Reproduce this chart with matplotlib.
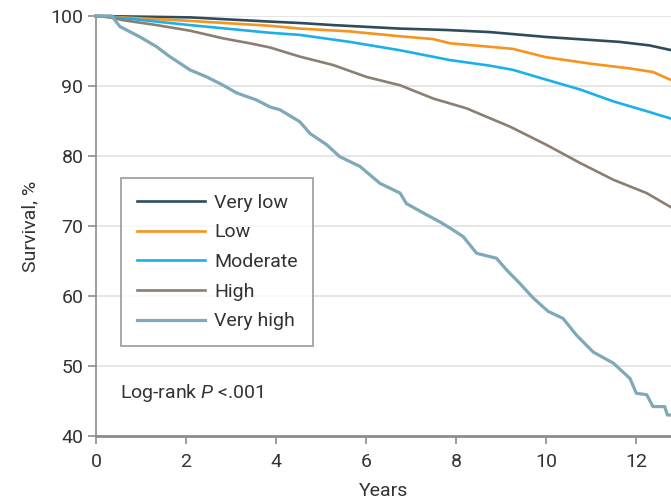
import matplotlib
matplotlib.use('Agg')
from matplotlib import pyplot as plt

# survival curves (years, survival %)
very_low_t = [0, 2.09, 3.87, 4.53, 5.27, 6.76, 7.79, 8.76, 10.01, 11.64, 12.3, 12.8]
very_low_v = [100, 99.8, 99.2, 99.0, 98.7, 98.2, 98.0, 97.7, 97.0, 96.3, 95.8, 95.1]

low_t = [0, 0.6, 2.09, 3.87, 4.53, 5.64, 6.76, 7.5, 7.87, 8.76, 9.27, 10.01, 10.98, 11.87, 12.38, 12.8]
low_v = [100, 99.8, 99.3, 98.6, 98.2, 97.8, 97.1, 96.7, 96.1, 95.6, 95.3, 94.1, 93.2, 92.5, 92.0, 90.8]

moderate_t = [0, 0.6, 2.09, 3.87, 4.53, 5.64, 6.76, 7.87, 8.76, 9.27, 10.01, 10.76, 11.5, 12.24, 12.8]
moderate_v = [100, 99.7, 98.7, 97.6, 97.3, 96.3, 95.1, 93.7, 92.9, 92.3, 90.9, 89.5, 87.8, 86.4, 85.3]

high_t = [0, 0.31, 0.6, 1.35, 2.09, 2.83, 3.42, 3.87, 4.53, 5.27, 6.01, 6.76, 7.5, 8.24, 8.68, 9.2,
          10.01, 10.76, 11.5, 12.24, 12.8]
high_v = [100, 99.8, 99.4, 98.7, 97.9, 96.8, 96.1, 95.5, 94.2, 93.0, 91.3, 90.1, 88.2, 86.8, 85.6, 84.2,
          81.6, 79.0, 76.6, 74.7, 72.6]

very_high_t = [0, 0.35, 0.53, 0.98, 1.35, 1.64, 2.09, 2.46, 2.83, 3.13, 3.57, 3.87, 4.09, 4.53, 4.76,
               5.13, 5.42, 5.87, 6.31, 6.76, 6.9, 7.35, 7.64, 7.87, 8.16, 8.46, 8.9, 9.13, 9.42, 9.72,
               10.05, 10.38, 10.68, 11.05, 11.5, 11.87, 12.01, 12.24, 12.38, 12.64, 12.7, 12.8]
very_high_v = [100, 100, 98.5, 97.0, 95.6, 94.2, 92.3, 91.3, 90.1, 89.0, 88.0, 87.0, 86.6, 84.9, 83.2,
               81.6, 79.9, 78.5, 76.1, 74.7, 73.2, 71.6, 70.6, 69.7, 68.5, 66.1, 65.4, 63.7, 61.8, 59.7,
               57.8, 56.8, 54.4, 52.0, 50.4, 48.2, 46.1, 45.9, 44.2, 44.2, 43.0, 43.0]

labels = ['Very low', 'Low', 'Moderate', 'High', 'Very high']
colors = ['#2e4c5c', '#f7941d', '#1bb0e8', '#8a7f71', '#7fa8b8']
xticks = [0, 2, 4, 6, 8, 10, 12]
yticks = [40, 50, 60, 70, 80, 90, 100]

plt.rcParams['font.family'] = ['Roboto', 'DejaVu Sans']
plt.rcParams['mathtext.fontset'] = 'custom'
plt.rcParams['mathtext.it'] = 'Roboto:italic'
plt.rcParams['mathtext.rm'] = 'Roboto'

fs = 14

fig = plt.figure(figsize=(6.71, 5.03), dpi=100)
ax = fig.add_axes([0.143, 0.1332, 0.857, 0.8350])

series = [(very_low_t, very_low_v), (low_t, low_v), (moderate_t, moderate_v),
          (high_t, high_v), (very_high_t, very_high_v)]
for (t, v), lab, c in zip(series, labels, colors):
    lw = 2.3 if lab == 'Very high' else 1.9
    ax.plot(t, v, color=c, lw=lw, label=lab, clip_on=False, zorder=3)

ax.set_xlim(0, 12.78)
ax.set_ylim(40, 100)
ax.set_xticks(xticks)
ax.set_yticks(yticks)
for y in yticks[1:]:
    ax.axhline(y, color='#e2e2e2', lw=1.2, zorder=1)

for s in ['top', 'right']:
    ax.spines[s].set_visible(False)
for s in ['left', 'bottom']:
    ax.spines[s].set_color('#8c8c8c')
ax.spines['left'].set_linewidth(1.2)
ax.spines['bottom'].set_linewidth(2.0)
ax.tick_params(axis='both', colors='#8c8c8c', labelcolor='#333333', labelsize=fs, width=1.2, length=6)
ax.tick_params(axis='y', pad=3)
ax.tick_params(axis='x', pad=6)

ax.set_xlabel('Years', fontsize=fs, color='#333333', labelpad=8)
ax.set_ylabel('Survival, %', fontsize=fs, color='#333333', labelpad=8)

leg = ax.legend(loc='upper left', bbox_to_anchor=(0.0435, 0.614), borderaxespad=0,
                fontsize=fs, handlelength=3.5, labelspacing=0.6, fancybox=False,
                frameon=True, borderpad=0.8, handletextpad=0.5)
leg.get_frame().set_edgecolor('#8c8c8c')
leg.get_frame().set_linewidth(1.3)
for txt in leg.get_texts():
    txt.set_color('#333333')

ax.text(0.53, 46.1, 'Log-rank $P$ <.001', fontsize=fs, color='#333333', va='center', ha='left')

fig.savefig('out.png', dpi=100)
